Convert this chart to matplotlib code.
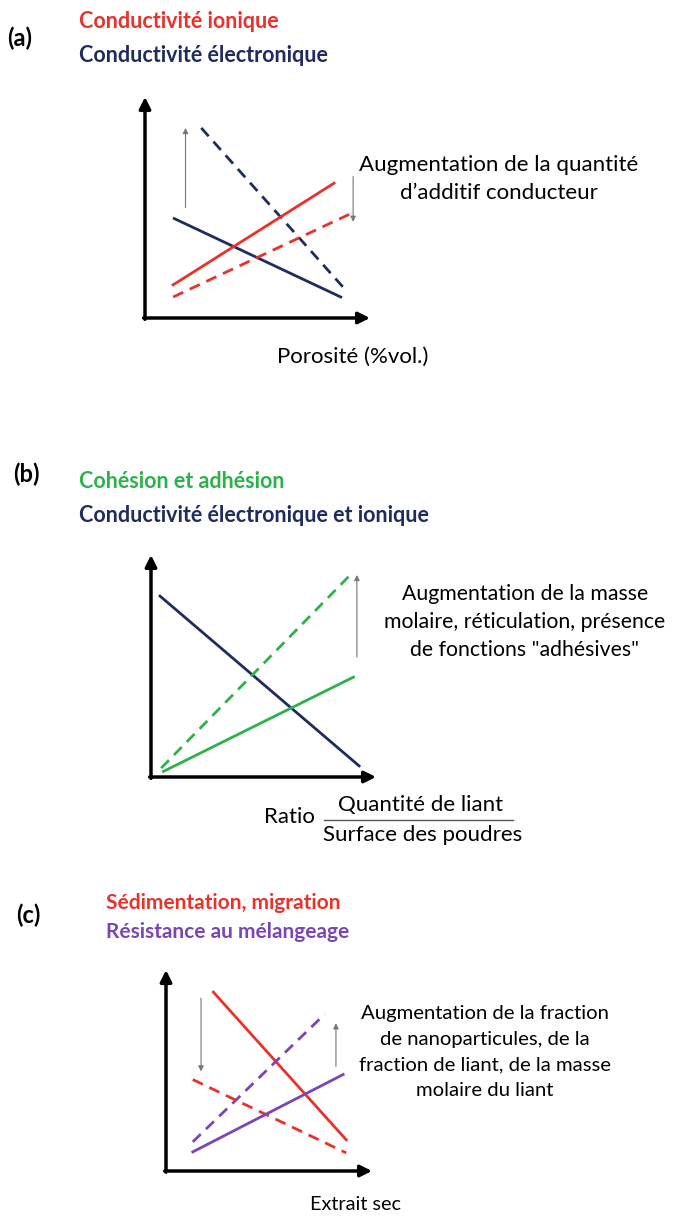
import matplotlib
matplotlib.use("Agg")
import matplotlib.pyplot as plt

plt.rcParams['font.family'] = ['Lato', 'DejaVu Sans']

RED = '#e8322b'
NAVY = '#1f2c5e'
GREEN = '#2db24b'
PURPLE = '#7b45b6'
GREY = '#777777'

# panel (a): porosity
a_navy_dash_x = [2.5, 8.8]
a_navy_dash_y = [8.6, 1.4]
a_navy_x = [1.3, 8.7]
a_navy_y = [4.5, 0.95]
a_red_x = [1.25, 8.4]
a_red_y = [1.5, 6.1]
a_red_dash_x = [1.25, 9.2]
a_red_dash_y = [0.95, 4.75]
a_arrow_up = (1.8, 5.0, 8.6)     # x, y from, y to
a_arrow_down = (9.25, 6.4, 4.35)

# panel (b): binder ratio
b_navy_x = [0.4, 9.25]
b_navy_y = [8.15, 0.5]
b_green_dash_x = [0.45, 9.0]
b_green_dash_y = [0.4, 9.25]
b_green_x = [0.55, 9.0]
b_green_y = [0.25, 4.5]
b_arrow_up = (9.15, 5.4, 9.1)

# panel (c): dry extract
c_red_x = [2.3, 8.75]
c_red_y = [8.9, 1.55]
c_purple_dash_x = [1.3, 7.7]
c_purple_dash_y = [1.45, 7.8]
c_red_dash_x = [1.3, 8.75]
c_red_dash_y = [4.55, 0.9]
c_purple_x = [1.3, 8.6]
c_purple_y = [0.95, 4.8]
c_arrow_down = (1.7, 8.6, 4.95)
c_arrow_up = (8.25, 5.2, 7.35)

W, H = 673, 1216
fig = plt.figure(figsize=(W / 100, H / 100), dpi=100)
fig.patch.set_facecolor('white')


def px_axes(x0, y0, x1, y1):
    # axes from pixel box: (x0,y0) origin bottom-left, (x1,y1) arrow tips
    ax = fig.add_axes([x0 / W, 1 - y0 / H, (x1 - x0) / W, (y0 - y1) / H])
    ax.set_xlim(0, 10)
    ax.set_ylim(0, 10)
    ax.axis('off')
    kw = dict(arrowstyle='-|>', lw=2.5, color='black', mutation_scale=17, shrinkA=0, shrinkB=0)
    ax.annotate('', xy=(1, 0), xytext=(-0.006, 0), xycoords='axes fraction', arrowprops=kw)
    ax.annotate('', xy=(0, 1), xytext=(0, -0.006), xycoords='axes fraction', arrowprops=kw)
    return ax


def thin_arrow(ax, a):
    x, y0, y1 = a
    ax.annotate('', xy=(x, y1), xytext=(x, y0),
                arrowprops=dict(arrowstyle='-|>', lw=0.8, color=GREY, mutation_scale=8,
                                shrinkA=0, shrinkB=0))


def ftext(x, y, s, **kw):
    fig.text(x / W, 1 - y / H, s, va='center', **kw)


DASH = (0, (4, 2.6))
LW = 2.0
TS = 15.5   # title size
AS = 16     # annotation size

# ---- (a)
ax = px_axes(145, 318, 370, 97)
ax.plot(a_navy_dash_x, a_navy_dash_y, color=NAVY, lw=LW, ls=DASH)
ax.plot(a_navy_x, a_navy_y, color=NAVY, lw=LW)
ax.plot(a_red_x, a_red_y, color=RED, lw=LW)
ax.plot(a_red_dash_x, a_red_dash_y, color=RED, lw=LW, ls=DASH)
thin_arrow(ax, a_arrow_up)
thin_arrow(ax, a_arrow_down)

ftext(7, 38, '(a)', fontsize=17, fontweight='bold')
ftext(79, 21, 'Conductivité ionique', fontsize=TS, fontweight='bold', color=RED)
ftext(79, 55, 'Conductivité électronique', fontsize=TS, fontweight='bold', color=NAVY)
ftext(499, 165, 'Augmentation de la quantité', fontsize=AS, ha='center')
ftext(499, 193, 'd\u2019additif conducteur', fontsize=AS, ha='center')
ftext(353, 357, 'Porosité (%vol.)', fontsize=AS, ha='center')

# ---- (b)
ax = px_axes(151, 777, 376, 555)
ax.plot(b_navy_x, b_navy_y, color=NAVY, lw=LW)
ax.plot(b_green_dash_x, b_green_dash_y, color=GREEN, lw=LW, ls=DASH)
ax.plot(b_green_x, b_green_y, color=GREEN, lw=LW)
thin_arrow(ax, b_arrow_up)

ftext(13, 474, '(b)', fontsize=17, fontweight='bold')
ftext(79, 482, 'Cohésion et adhésion', fontsize=TS, fontweight='bold', color=GREEN)
ftext(79, 515, 'Conductivité électronique et ionique', fontsize=TS, fontweight='bold', color=NAVY)
ftext(525, 594, 'Augmentation de la masse', fontsize=15.3, ha='center')
ftext(525, 622, 'molaire, réticulation, présence', fontsize=15.3, ha='center')
ftext(525, 650, 'de fonctions "adhésives"', fontsize=15.3, ha='center')
ftext(264, 817, 'Ratio', fontsize=AS)
ftext(421, 805, 'Quantité de liant', fontsize=AS, ha='center')
ftext(423, 835, 'Surface des poudres', fontsize=AS, ha='center')
fig.add_artist(plt.Line2D([324 / W, 513 / W], [1 - 820 / H, 1 - 820 / H], color='#555555', lw=1))

# ---- (c)
ax = px_axes(166, 1171, 372, 970)
ax.plot(c_red_x, c_red_y, color=RED, lw=LW)
ax.plot(c_purple_dash_x, c_purple_dash_y, color=PURPLE, lw=LW, ls=DASH)
ax.plot(c_red_dash_x, c_red_dash_y, color=RED, lw=LW, ls=DASH)
ax.plot(c_purple_x, c_purple_y, color=PURPLE, lw=LW)
thin_arrow(ax, c_arrow_down)
thin_arrow(ax, c_arrow_up)

ftext(16, 915, '(c)', fontsize=17, fontweight='bold')
ftext(106, 903, 'Sédimentation, migration', fontsize=15, fontweight='bold', color=RED)
ftext(106, 932, 'Résistance au mélangeage', fontsize=15, fontweight='bold', color=PURPLE)
ftext(485, 1014, 'Augmentation de la fraction', fontsize=14.6, ha='center')
ftext(485, 1040, 'de nanoparticules, de la', fontsize=14.6, ha='center')
ftext(485, 1065, 'fraction de liant, de la masse', fontsize=14.6, ha='center')
ftext(485, 1090, 'molaire du liant', fontsize=14.6, ha='center')
ftext(355, 1205, 'Extrait sec', fontsize=14.3, ha='center')

fig.savefig('out.png', dpi=100)
